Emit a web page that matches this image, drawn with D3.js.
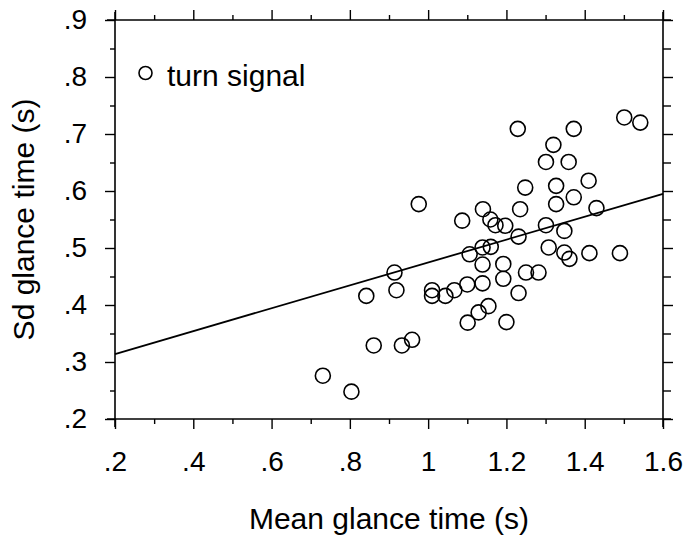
<!DOCTYPE html>
<html>
<head>
<meta charset="utf-8">
<script src="https://cdn.jsdelivr.net/npm/d3@7/dist/d3.min.js"></script>
<style>
  html, body { margin: 0; padding: 0; background: #fff; }
  svg { display: block; font-family: "Liberation Sans", Arial, Helvetica, sans-serif; }
</style>
</head>
<body>
<svg id="chart" width="692" height="538"></svg>
<script>
// ---- Data ----
const meanGlance = [0.731, 0.804, 0.842, 0.861, 0.914, 0.919, 0.933, 0.959, 0.976, 1.010,
  1.010, 1.044, 1.067, 1.087, 1.100, 1.106, 1.101, 1.129, 1.140, 1.139,
  1.139, 1.139, 1.154, 1.159, 1.160, 1.172, 1.192, 1.192, 1.197, 1.200,
  1.231, 1.231, 1.229, 1.235, 1.248, 1.250, 1.282, 1.301, 1.301, 1.308,
  1.320, 1.327, 1.327, 1.348, 1.348, 1.359, 1.361, 1.372, 1.372, 1.410,
  1.412, 1.430, 1.490, 1.501, 1.542];
const sdGlance = [0.276, 0.248, 0.416, 0.329, 0.457, 0.426, 0.329, 0.339, 0.577, 0.426,
  0.416, 0.416, 0.426, 0.548, 0.436, 0.489, 0.369, 0.387, 0.568, 0.501,
  0.471, 0.438, 0.398, 0.550, 0.502, 0.540, 0.472, 0.446, 0.539, 0.370,
  0.520, 0.421, 0.709, 0.568, 0.606, 0.457, 0.457, 0.651, 0.540, 0.501,
  0.681, 0.609, 0.577, 0.530, 0.492, 0.651, 0.481, 0.709, 0.589, 0.618,
  0.491, 0.570, 0.491, 0.729, 0.720];
const fitLine = [[0.2, 0.314], [1.6, 0.595]];
const xTicks = [0.2, 0.4, 0.6, 0.8, 1.0, 1.2, 1.4, 1.6];
const xTickLabels = [".2", ".4", ".6", ".8", "1", "1.2", "1.4", "1.6"];
const xMinorTicks = [0.3, 0.5, 0.7, 0.9, 1.1, 1.3, 1.5];
const yTicks = [0.2, 0.3, 0.4, 0.5, 0.6, 0.7, 0.8, 0.9];
const yTickLabels = [".2", ".3", ".4", ".5", ".6", ".7", ".8", ".9"];
const yMinorTicks = [0.25, 0.35, 0.45, 0.55, 0.65, 0.75, 0.85];
const xTitle = "Mean glance time (s)";
const yTitle = "Sd glance time (s)";
const legendLabel = "turn signal";

// ---- Layout ----
const svg = d3.select("#chart");
const L = 115, R = 663, T = 20, B = 419;
const x = d3.scaleLinear().domain([0.2, 1.6]).range([L, R]);
const y = d3.scaleLinear().domain([0.2, 0.9]).range([B, T]);
const ext = 8;

function styleAxis(g) {
  g.select(".domain").remove();
  g.selectAll(".tick line").attr("stroke", "#000").attr("stroke-width", 1.4);
  g.selectAll(".tick text").attr("fill", "#000");
}

// Frame lines (extended past corners)
const frame = svg.append("g").attr("stroke", "#000").attr("stroke-width", 1.6);
frame.append("line").attr("x1", L - ext).attr("x2", R + ext).attr("y1", B).attr("y2", B);
frame.append("line").attr("x1", L - ext).attr("x2", R + ext).attr("y1", T).attr("y2", T);
frame.append("line").attr("x1", L).attr("x2", L).attr("y1", T - ext).attr("y2", B + ext);
frame.append("line").attr("x1", R).attr("x2", R).attr("y1", T - ext).attr("y2", B + ext);

// Bottom axis
svg.append("g").attr("transform", `translate(0,${B})`)
  .call(d3.axisBottom(x).tickValues(xTicks).tickSize(10).tickPadding(22)
    .tickFormat((d, i) => xTickLabels[i]))
  .call(styleAxis)
  .call(g => g.selectAll(".tick text").attr("font-size", 28).attr("font-family", "Liberation Sans, Arial, sans-serif"));
svg.append("g").attr("transform", `translate(0,${B})`)
  .call(d3.axisBottom(x).tickValues(xMinorTicks).tickSize(5).tickFormat(""))
  .call(styleAxis);

// Top axis
svg.append("g").attr("transform", `translate(0,${T})`)
  .call(d3.axisTop(x).tickValues(xTicks).tickSize(10).tickFormat(""))
  .call(styleAxis);
svg.append("g").attr("transform", `translate(0,${T})`)
  .call(d3.axisTop(x).tickValues(xMinorTicks).tickSize(5).tickFormat(""))
  .call(styleAxis);

// Left axis
svg.append("g").attr("transform", `translate(${L},0)`)
  .call(d3.axisLeft(y).tickValues(yTicks).tickSize(10).tickPadding(18)
    .tickFormat((d, i) => yTickLabels[i]))
  .call(styleAxis)
  .call(g => g.selectAll(".tick text").attr("font-size", 28).attr("font-family", "Liberation Sans, Arial, sans-serif"));
svg.append("g").attr("transform", `translate(${L},0)`)
  .call(d3.axisLeft(y).tickValues(yMinorTicks).tickSize(5).tickFormat(""))
  .call(styleAxis);

// Right axis
svg.append("g").attr("transform", `translate(${R},0)`)
  .call(d3.axisRight(y).tickValues(yTicks).tickSize(10).tickFormat(""))
  .call(styleAxis);
svg.append("g").attr("transform", `translate(${R},0)`)
  .call(d3.axisRight(y).tickValues(yMinorTicks).tickSize(8).tickFormat(""))
  .call(styleAxis);

// Regression line
svg.append("path")
  .datum(fitLine)
  .attr("fill", "none").attr("stroke", "#000").attr("stroke-width", 1.8)
  .attr("d", d3.line().x(d => x(d[0])).y(d => y(d[1])));

// Points
const pts = meanGlance.map((m, i) => ({ m, s: sdGlance[i] }));
svg.append("g").selectAll("circle").data(pts).join("circle")
  .attr("cx", d => x(d.m)).attr("cy", d => y(d.s)).attr("r", 7.5)
  .attr("fill", "none").attr("stroke", "#000").attr("stroke-width", 1.6);

// Legend
svg.append("circle").attr("cx", 145.5).attr("cy", 73).attr("r", 6.5)
  .attr("fill", "none").attr("stroke", "#000").attr("stroke-width", 1.6);
svg.append("text").attr("x", 167).attr("y", 86)
  .attr("font-size", 30).attr("fill", "#000").text(legendLabel);

// Axis titles
svg.append("text").attr("x", (L + R) / 2).attr("y", 529)
  .attr("text-anchor", "middle").attr("font-size", 30).attr("fill", "#000").text(xTitle);
svg.append("text").attr("transform", `translate(34,${(T + B) / 2}) rotate(-90)`)
  .attr("text-anchor", "middle").attr("font-size", 30).attr("fill", "#000").text(yTitle);
</script>
</body>
</html>
